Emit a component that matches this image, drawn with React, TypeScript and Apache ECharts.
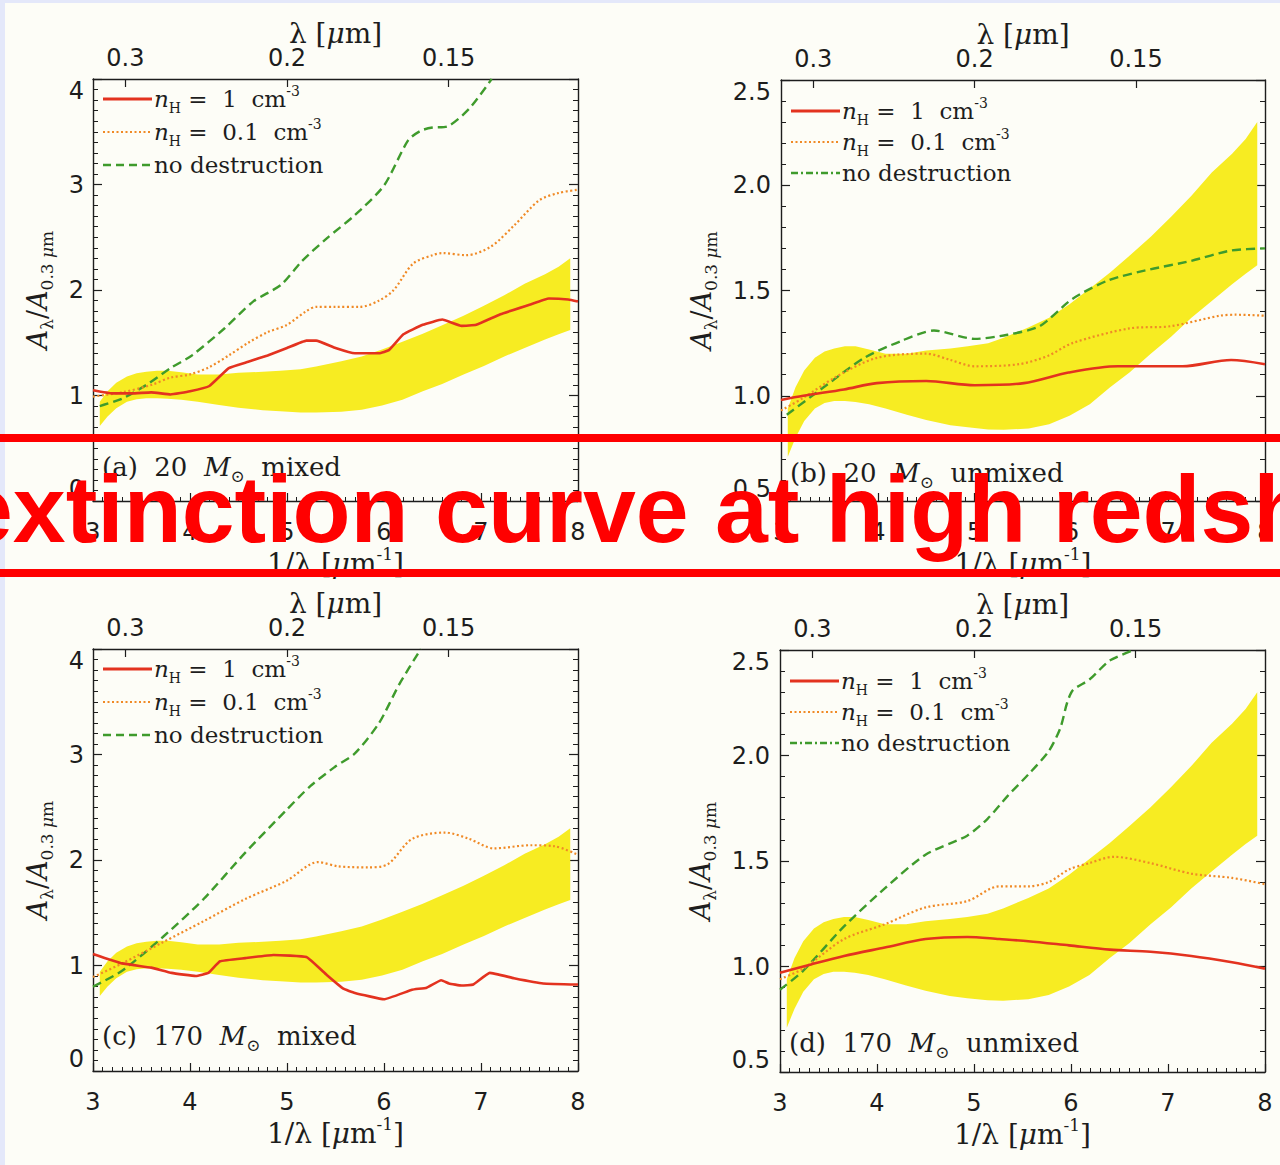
import React, { useEffect, useRef } from "react";
import * as echarts from "echarts";

// ---- observed quasar extinction band (shared by all four panels) ----
const bandX = [3.07, 3.15, 3.24, 3.35, 3.45, 3.55, 3.66, 3.77, 3.91, 4.08, 4.3, 4.5, 4.75, 4.93, 5.14, 5.3, 5.56, 5.77, 5.98, 6.19, 6.4, 6.6, 6.82, 7.03, 7.24, 7.45, 7.66, 7.8, 7.92];
const bandUpper = [0.94, 1.04, 1.12, 1.18, 1.21, 1.225, 1.235, 1.235, 1.22, 1.2, 1.2, 1.215, 1.225, 1.235, 1.25, 1.275, 1.325, 1.37, 1.435, 1.51, 1.585, 1.665, 1.755, 1.85, 1.95, 2.06, 2.15, 2.22, 2.3];
const bandLower = [0.71, 0.8, 0.88, 0.94, 0.965, 0.975, 0.975, 0.97, 0.96, 0.94, 0.91, 0.885, 0.86, 0.85, 0.84, 0.838, 0.845, 0.865, 0.905, 0.96, 1.04, 1.11, 1.2, 1.28, 1.37, 1.45, 1.53, 1.58, 1.62];

// ---- (a) 20 Msun mixed ----
const aNH1: [number, number][] = [[3.0, 1.05], [3.2, 1.02], [3.4, 1.02], [3.6, 1.03], [3.8, 1.01], [4.0, 1.04], [4.2, 1.09], [4.4, 1.26], [4.6, 1.32], [4.8, 1.38], [5.0, 1.45], [5.2, 1.52], [5.3, 1.52], [5.5, 1.45], [5.7, 1.4], [5.95, 1.4], [6.05, 1.43], [6.2, 1.58], [6.4, 1.67], [6.6, 1.72], [6.8, 1.66], [6.95, 1.67], [7.2, 1.77], [7.5, 1.86], [7.7, 1.92], [7.9, 1.91], [8.0, 1.89]];
const aNH01: [number, number][] = [[3.0, 0.99], [3.3, 1.03], [3.6, 1.1], [3.8, 1.17], [4.0, 1.2], [4.2, 1.27], [4.4, 1.38], [4.6, 1.5], [4.8, 1.6], [5.0, 1.67], [5.2, 1.8], [5.3, 1.84], [5.5, 1.84], [5.75, 1.84], [5.95, 1.9], [6.1, 2.0], [6.3, 2.25], [6.5, 2.33], [6.6, 2.35], [6.85, 2.33], [7.1, 2.41], [7.35, 2.62], [7.6, 2.85], [7.8, 2.92], [8.0, 2.95]];
const aNoDest: [number, number][] = [[3.07, 0.9], [3.3, 0.97], [3.55, 1.1], [3.8, 1.26], [4.02, 1.38], [4.36, 1.64], [4.65, 1.89], [4.94, 2.05], [5.15, 2.27], [5.41, 2.49], [5.7, 2.71], [6.0, 2.99], [6.25, 3.42], [6.38, 3.51], [6.5, 3.54], [6.65, 3.55], [6.88, 3.72], [7.11, 4.0]];

// ---- (b) 20 Msun unmixed ----
const bNH1: [number, number][] = [[3.0, 0.98], [3.23, 1.0], [3.65, 1.03], [3.99, 1.06], [4.5, 1.07], [5.0, 1.05], [5.51, 1.06], [5.97, 1.11], [6.48, 1.14], [7.15, 1.14], [7.65, 1.17], [8.0, 1.15]];
const bNH01: [number, number][] = [[3.0, 0.93], [3.23, 0.99], [3.57, 1.09], [3.99, 1.18], [4.5, 1.2], [4.75, 1.17], [5.0, 1.14], [5.46, 1.15], [5.76, 1.19], [6.01, 1.25], [6.6, 1.32], [7.02, 1.33], [7.53, 1.38], [7.7, 1.385], [8.0, 1.38]];
const bNoDest: [number, number][] = [[3.06, 0.91], [3.44, 1.04], [3.86, 1.18], [4.24, 1.26], [4.58, 1.31], [5.0, 1.27], [5.34, 1.29], [5.67, 1.33], [6.01, 1.46], [6.39, 1.55], [6.81, 1.6], [7.23, 1.64], [7.65, 1.69], [8.0, 1.7]];

// ---- (c) 170 Msun mixed ----
const cNH1: [number, number][] = [[3.0, 1.11], [3.3, 1.02], [3.6, 0.98], [3.81, 0.93], [4.06, 0.9], [4.19, 0.93], [4.31, 1.04], [4.57, 1.07], [4.86, 1.1], [5.2, 1.08], [5.41, 0.91], [5.58, 0.78], [5.7, 0.74], [6.0, 0.68], [6.29, 0.77], [6.44, 0.79], [6.59, 0.86], [6.67, 0.83], [6.8, 0.81], [6.92, 0.82], [7.09, 0.93], [7.34, 0.88], [7.64, 0.83], [8.0, 0.82]];
const cNH01: [number, number][] = [[3.0, 0.89], [3.3, 1.02], [3.72, 1.22], [4.14, 1.42], [4.57, 1.63], [4.99, 1.8], [5.32, 1.98], [5.53, 1.94], [5.83, 1.93], [6.04, 1.96], [6.29, 2.2], [6.63, 2.26], [6.88, 2.2], [7.13, 2.11], [7.51, 2.14], [7.76, 2.13], [8.0, 2.05]];
const cNoDest: [number, number][] = [[3.0, 0.8], [3.3, 0.95], [3.72, 1.27], [4.14, 1.63], [4.57, 2.07], [4.99, 2.47], [5.24, 2.7], [5.49, 2.88], [5.7, 3.01], [5.95, 3.3], [6.16, 3.67], [6.38, 4.0]];

// ---- (d) 170 Msun unmixed ----
const dNH1: [number, number][] = [[3.0, 0.97], [3.32, 1.01], [3.66, 1.05], [4.08, 1.09], [4.5, 1.13], [4.93, 1.14], [5.26, 1.13], [5.56, 1.12], [5.98, 1.1], [6.4, 1.08], [6.82, 1.07], [7.24, 1.05], [7.66, 1.02], [8.0, 0.99]];
const dNH01: [number, number][] = [[3.0, 0.94], [3.24, 0.99], [3.66, 1.13], [4.08, 1.2], [4.5, 1.28], [4.93, 1.31], [5.26, 1.38], [5.56, 1.38], [5.77, 1.4], [5.98, 1.46], [6.19, 1.49], [6.44, 1.52], [6.82, 1.49], [7.24, 1.44], [7.66, 1.42], [8.0, 1.39]];
const dNoDest: [number, number][] = [[3.0, 0.89], [3.24, 0.98], [3.66, 1.19], [4.08, 1.37], [4.5, 1.53], [4.93, 1.62], [5.14, 1.7], [5.35, 1.81], [5.56, 1.91], [5.77, 2.02], [5.89, 2.13], [5.96, 2.25], [6.02, 2.31], [6.19, 2.36], [6.4, 2.45], [6.65, 2.5]];

// ---- axis ticks and labels ----
const lambdaTicks = [0.3, 0.2, 0.15];
const lambdaTickLabels = ["0.3", "0.2", "0.15"];
const topTickPositions = lambdaTicks.map((l) => 1 / l);

const panelTags = ["(a)", "(b)", "(c)", "(d)"];
const panelMasses = ["20", "20", "170", "170"];
const panelMixing = ["mixed", "unmixed", "mixed", "unmixed"];
const legendLabels = [
  "{it|n}{sub|H} =  1  cm{sup|-3}",
  "{it|n}{sub|H} =  0.1  cm{sup|-3}",
  "no destruction",
];
const bannerTitle = "extinction curve at high redshift";

const panelSeries = [
  [aNH1, aNH01, aNoDest],
  [bNH1, bNH01, bNoDest],
  [cNH1, cNH01, cNoDest],
  [dNH1, dNH01, dNoDest],
];

// ---- layout / styling ----
const PANELS = [
  { left: 93, top: 79, width: 485, height: 422, yMin: 0, yMax: 4, yStep: 1, yMinor: 10, decimals: 0, nameGap: 38, labelMargin: 9, rows: [20, 53, 86], dashDot: false, tagDy: 34, tagDx: 9 },
  { left: 781, top: 80, width: 484, height: 421, yMin: 0.5, yMax: 2.5, yStep: 0.5, yMinor: 5, decimals: 1, nameGap: 62, labelMargin: 10, rows: [31, 62, 93], dashDot: true, tagDy: 28, tagDx: 9 },
  { left: 93, top: 649, width: 485, height: 422, yMin: 0, yMax: 4, yStep: 1, yMinor: 10, decimals: 0, nameGap: 38, labelMargin: 9, rows: [20, 53, 86], dashDot: false, tagDy: 35, tagDx: 9 },
  { left: 780, top: 650, width: 485, height: 422, yMin: 0.5, yMax: 2.5, yStep: 0.5, yMinor: 5, decimals: 1, nameGap: 62, labelMargin: 10, rows: [31, 62, 93], dashDot: true, tagDy: 29, tagDx: 9 },
];

const INK = "#1d1d1d";
const RED = "#e3321f";
const ORANGE = "#f08a26";
const GREEN = "#3f9b2c";
const YELLOW = "#f7ec22";
const PAPER = "#fdfdf7";
const FRAME_BLUE = "#e4e8fa";
const BANNER_RED = "#ff0000";
const SANS = "DejaVu Sans";
const SERIF = "DejaVu Serif";

const DASH = [9, 5];
const DOT = [2, 2.5];
const DASH_DOT = [7, 3, 2, 3];

function lambdaLabel(v: number): string {
  let best = 0;
  for (let k = 1; k < topTickPositions.length; k++) {
    if (Math.abs(topTickPositions[k] - v) < Math.abs(topTickPositions[best] - v)) best = k;
  }
  return lambdaTickLabels[best];
}

const axisLineStyle = { color: INK, width: 1.4 };
const tickLineStyle = { color: INK, width: 1.2 };

function serifRich(size: number, small: number) {
  return {
    it: { fontStyle: "italic", fontFamily: SERIF, fontSize: size, lineHeight: size + 8, color: INK, fill: INK },
    sub: { fontFamily: SERIF, fontSize: small, lineHeight: small + 1, verticalAlign: "bottom", color: INK, fill: INK },
    subit: { fontFamily: SERIF, fontStyle: "italic", fontSize: small, lineHeight: small + 1, verticalAlign: "bottom", color: INK, fill: INK },
    sup: { fontFamily: SERIF, fontSize: small, lineHeight: small + 1, verticalAlign: "top", color: INK, fill: INK },
  };
}

function buildOption() {
  const grid: any[] = [];
  const xAxis: any[] = [];
  const yAxis: any[] = [];
  const series: any[] = [];
  const graphic: any[] = [];

  PANELS.forEach((p, i) => {
    grid.push({ left: p.left, top: p.top, width: p.width, height: p.height });

    // bottom: wavenumber axis
    xAxis.push({
      gridIndex: i,
      type: "value",
      position: "bottom",
      min: 3,
      max: 8,
      interval: 1,
      axisLine: { show: true, onZero: false, lineStyle: axisLineStyle },
      axisTick: { show: true, inside: true, length: 8, lineStyle: tickLineStyle },
      minorTick: { show: true, splitNumber: 10, length: 4, lineStyle: { color: INK, width: 1 } },
      axisLabel: { show: true, margin: 19, color: INK, fontFamily: SANS, fontSize: 24 },
      splitLine: { show: false },
      minorSplitLine: { show: false },
      name: "1/λ [{it|μ}m{sup|-1}]",
      nameLocation: "middle",
      nameGap: 44,
      nameMoveOverlap: false,
      nameTextStyle: {
        fontFamily: SERIF,
        fontSize: 28,
        lineHeight: 36,
        color: INK,
        rich: serifRich(28, 17),
      },
    });
    // top: wavelength axis
    xAxis.push({
      gridIndex: i,
      type: "value",
      position: "top",
      min: 3,
      max: 8,
      axisLine: { show: true, onZero: false, lineStyle: axisLineStyle },
      axisTick: { show: true, inside: true, length: 8, lineStyle: tickLineStyle, customValues: topTickPositions },
      axisLabel: {
        show: true,
        customValues: topTickPositions,
        formatter: (v: number) => lambdaLabel(v),
        margin: 9,
        color: INK,
        fontFamily: SANS,
        fontSize: 24,
      },
      splitLine: { show: false },
      name: "λ [{it|μ}m]",
      nameLocation: "middle",
      nameGap: 28,
      nameMoveOverlap: false,
      nameTextStyle: {
        fontFamily: SERIF,
        fontSize: 28,
        lineHeight: 36,
        color: INK,
        rich: serifRich(28, 17),
      },
    });

    yAxis.push({
      gridIndex: i,
      type: "value",
      position: "left",
      min: p.yMin,
      max: p.yMax,
      interval: p.yStep,
      axisLine: { show: true, onZero: false, lineStyle: axisLineStyle },
      axisTick: { show: true, inside: true, length: 9, lineStyle: tickLineStyle },
      minorTick: { show: true, splitNumber: p.yMinor, length: 5, lineStyle: { color: INK, width: 1 } },
      axisLabel: {
        show: true,
        margin: p.labelMargin,
        color: INK,
        fontFamily: SANS,
        fontSize: 24,
        verticalAlignMaxLabel: "top",
        verticalAlignMinLabel: "bottom",
        formatter: (v: number) => v.toFixed(p.decimals),
      },
      splitLine: { show: false },
      minorSplitLine: { show: false },
      name: "{it|A}{sub|λ}/{it|A}{sub|0.3 }{subit|μ}{sub|m}",
      nameLocation: "middle",
      nameRotate: 90,
      nameGap: p.nameGap,
      nameMoveOverlap: false,
      nameTextStyle: {
        fontFamily: SERIF,
        fontSize: 27,
        lineHeight: 35,
        color: INK,
        rich: serifRich(27, 17),
      },
    });
    yAxis.push({
      gridIndex: i,
      type: "value",
      position: "right",
      min: p.yMin,
      max: p.yMax,
      interval: p.yStep,
      axisLine: { show: true, onZero: false, lineStyle: axisLineStyle },
      axisTick: { show: true, inside: true, length: 9, lineStyle: tickLineStyle },
      minorTick: { show: true, splitNumber: p.yMinor, length: 5, lineStyle: { color: INK, width: 1 } },
      axisLabel: { show: false },
      splitLine: { show: false },
      minorSplitLine: { show: false },
    });

    const xi = 2 * i;
    const yi = 2 * i;

    // yellow observational band
    series.push({
      type: "custom",
      xAxisIndex: xi,
      yAxisIndex: yi,
      silent: true,
      z: 1,
      data: [[bandX[0], bandLower[0]]],
      renderItem: (_params: any, api: any) => {
        const pts: number[][] = [];
        for (let k = 0; k < bandX.length; k++) pts.push(api.coord([bandX[k], bandUpper[k]]));
        for (let k = bandX.length - 1; k >= 0; k--) pts.push(api.coord([bandX[k], bandLower[k]]));
        return { type: "polygon", shape: { points: pts }, style: { fill: YELLOW, stroke: "none" } };
      },
    });

    const [solid, dotted, dashed] = panelSeries[i];
    const jagged = i === 0 || i === 2;
    series.push({
      type: "line",
      xAxisIndex: xi,
      yAxisIndex: yi,
      data: dashed,
      showSymbol: false,
      symbol: "none",
      smooth: 0.25,
      silent: true,
      z: 3,
      lineStyle: { color: GREEN, width: 2.4, type: DASH },
    });
    series.push({
      type: "line",
      xAxisIndex: xi,
      yAxisIndex: yi,
      data: dotted,
      showSymbol: false,
      symbol: "none",
      smooth: 0.3,
      silent: true,
      z: 4,
      lineStyle: { color: ORANGE, width: 2.2, type: DOT },
    });
    series.push({
      type: "line",
      xAxisIndex: xi,
      yAxisIndex: yi,
      data: solid,
      showSymbol: false,
      symbol: "none",
      smooth: jagged ? 0.1 : 0.3,
      silent: true,
      z: 5,
      lineStyle: { color: RED, width: 2.6, type: "solid" },
    });

    // legend drawn inside the frame, top-left
    const legendChildren: any[] = [];
    const sampleStyles = [
      { stroke: RED, lineWidth: 3, lineDash: null },
      { stroke: ORANGE, lineWidth: 2, lineDash: DOT },
      { stroke: GREEN, lineWidth: 2.4, lineDash: p.dashDot ? DASH_DOT : [8, 5] },
    ];
    p.rows.forEach((ry, r) => {
      legendChildren.push({
        type: "line",
        shape: { x1: 10, y1: ry, x2: 59, y2: ry },
        style: sampleStyles[r],
        silent: true,
      });
      legendChildren.push({
        type: "text",
        x: 61,
        y: ry,
        silent: true,
        style: {
          text: legendLabels[r],
          fontFamily: SERIF,
          fontSize: 23,
          lineHeight: 31,
          fill: INK,
          align: "left",
          verticalAlign: "middle",
          rich: serifRich(23, 14),
        },
      });
    });
    // panel tag, bottom-left
    legendChildren.push({
      type: "text",
      x: p.tagDx,
      y: p.height - p.tagDy,
      silent: true,
      style: {
        text: `${panelTags[i]}  ${panelMasses[i]}  {it|M}{sub|⊙}  ${panelMixing[i]}`,
        fontFamily: SERIF,
        fontSize: 26,
        lineHeight: 34,
        fill: INK,
        align: "left",
        verticalAlign: "middle",
        rich: serifRich(26, 17),
      },
    });
    graphic.push({ type: "group", x: p.left, y: p.top, z: 50, children: legendChildren });
  });

  // slide frame strips
  graphic.push({ type: "rect", shape: { x: 0, y: 0, width: 5, height: 1165 }, style: { fill: FRAME_BLUE }, z: 40, silent: true });
  graphic.push({ type: "rect", shape: { x: 0, y: 0, width: 1280, height: 3 }, style: { fill: FRAME_BLUE }, z: 40, silent: true });

  // title banner across the middle
  graphic.push({ type: "rect", shape: { x: 0, y: 434, width: 1280, height: 8 }, style: { fill: BANNER_RED }, z: 100, silent: true });
  graphic.push({ type: "rect", shape: { x: 0, y: 569, width: 1280, height: 8 }, style: { fill: BANNER_RED }, z: 100, silent: true });
  graphic.push({
    type: "text",
    x: -40,
    y: 509,
    z: 101,
    silent: true,
    style: {
      text: bannerTitle,
      fontFamily: "Liberation Sans, Arial, sans-serif",
      fontWeight: "bold",
      fontSize: 95,
      fill: BANNER_RED,
      align: "left",
      verticalAlign: "middle",
    },
  });

  return {
    animation: false,
    backgroundColor: PAPER,
    grid,
    xAxis,
    yAxis,
    series,
    graphic,
  };
}

export default function App() {
  const ref = useRef<HTMLDivElement>(null);
  useEffect(() => {
    if (!ref.current) return;
    const chart = echarts.init(ref.current, null, { renderer: "svg", width: 1280, height: 1165 });
    chart.setOption(buildOption() as any);
    return () => chart.dispose();
  }, []);
  return <div ref={ref} style={{ position: "absolute", left: 0, top: 0, width: 1280, height: 1165 }} />;
}
